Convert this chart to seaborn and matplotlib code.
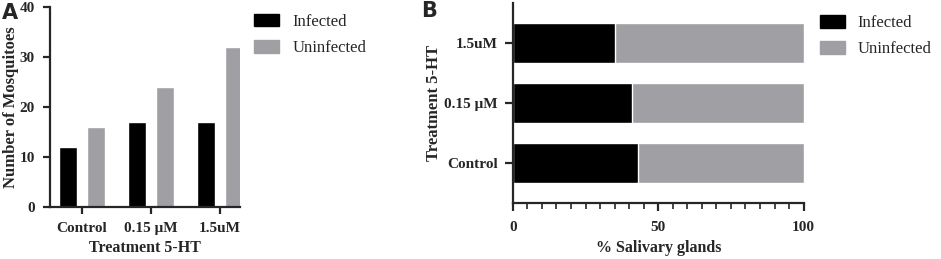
#!/usr/bin/env python3

import pandas as pd
import matplotlib

matplotlib.use("Agg")
import matplotlib.pyplot as plt
from matplotlib.ticker import MultipleLocator
from matplotlib.patches import Patch
import seaborn as sns

# panel A: counts of mosquitoes
groups = ["Control", "0.15 \u03bcM", "1.5uM"]
infected = [12, 17, 17]
uninfected = [16, 24, 32]

# panel B: % salivary glands infected (rest uninfected), top to bottom
groups_b = ["1.5uM", "0.15 \u03bcM", "Control"]
infected_pct = [35, 41, 43]
total_pct = [100, 100, 100]

BLACK = "#000000"
GREY = "#A0A0A4"

sns.set_style("ticks")
plt.rcParams["font.family"] = ["Liberation Serif", "DejaVu Serif"]
plt.rcParams["axes.linewidth"] = 1.6
plt.rcParams["xtick.major.width"] = 1.6
plt.rcParams["ytick.major.width"] = 1.6
plt.rcParams["xtick.minor.width"] = 1.2

fig = plt.figure(figsize=(9.41, 2.59), dpi=100)


def place_labels(ax, xlab_y, ylab_x):
    # axis titles centred at fixed spots (axes coords)
    ax.xaxis.set_label_coords(0.5, xlab_y)
    ax.xaxis.label.set_va("center")
    ax.yaxis.set_label_coords(ylab_x, 0.5)
    ax.yaxis.label.set_va("center")


# ---- panel A ----
df_a = pd.DataFrame(
    {
        "group": groups * 2,
        "count": infected + uninfected,
        "status": ["Infected"] * 3 + ["Uninfected"] * 3,
    }
)
ax1 = fig.add_axes([0.0531, 0.2008, 0.202, 0.772])
sns.barplot(
    df_a,
    x="group",
    y="count",
    hue="status",
    palette=[BLACK, GREY],
    width=0.8,
    gap=0.35,
    saturation=1,
    legend=False,
    ax=ax1,
)
ax1.set_ylim(0, 40)
ax1.set_xlim(-0.46, 2.29)
ax1.yaxis.set_major_locator(MultipleLocator(10))
ax1.set_xlabel("Treatment 5-HT", fontsize=11.5, fontweight="bold")
ax1.set_ylabel("Number of Mosquitoes", fontsize=12, fontweight="bold")
ax1.tick_params(labelsize=11, length=5, pad=6)
for lbl in ax1.get_xticklabels() + ax1.get_yticklabels():
    lbl.set_fontweight("bold")
place_labels(ax1, -0.205, -0.205)
sns.despine(ax=ax1)

handles = [Patch(color=BLACK, label="Infected"), Patch(color=GREY, label="Uninfected")]
legend_kw = dict(
    loc="upper left",
    frameon=False,
    fontsize=12,
    handlelength=1.5,
    handleheight=0.8,
    handletextpad=0.8,
    labelspacing=0.6,
)
fig.legend(handles=handles, bbox_to_anchor=(0.254, 1.005), **legend_kw)

# ---- panel B ----
ax2 = fig.add_axes([0.545, 0.216, 0.309, 0.772])
sns.barplot(x=total_pct, y=groups_b, color=GREY, saturation=1, width=0.67, ax=ax2)
sns.barplot(x=infected_pct, y=groups_b, color=BLACK, saturation=1, width=0.67, ax=ax2)
ax2.set_xlim(0, 100)
ax2.set_ylim(2.67, -0.67)
ax2.xaxis.set_major_locator(MultipleLocator(50))
ax2.xaxis.set_minor_locator(MultipleLocator(5))
ax2.set_xlabel("% Salivary glands", fontsize=11.5, fontweight="bold")
ax2.set_ylabel("Treatment 5-HT", fontsize=12, fontweight="bold")
ax2.tick_params(labelsize=11, length=6, pad=5)
ax2.tick_params(axis="x", pad=7)
ax2.tick_params(axis="x", which="minor", length=4)
for lbl in ax2.get_xticklabels() + ax2.get_yticklabels():
    lbl.set_fontweight("bold")
place_labels(ax2, -0.225, -0.271)
sns.despine(ax=ax2)

fig.legend(handles=handles, bbox_to_anchor=(0.855, 1.0), **legend_kw)

# panel letters
fig.text(0.002, 0.99, "A", fontsize=15, fontweight="bold", family="DejaVu Sans", va="top")
fig.text(0.448, 0.995, "B", fontsize=15, fontweight="bold", family="DejaVu Sans", va="top")

fig.savefig("out.png", dpi=100)
